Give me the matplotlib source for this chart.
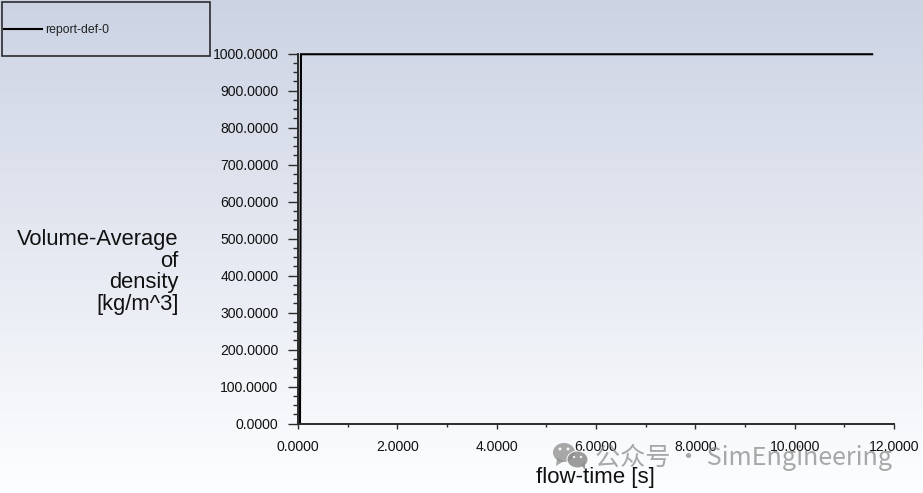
import numpy as np
from matplotlib import pyplot as plt
from matplotlib.patches import Ellipse, Rectangle, Polygon
from matplotlib.ticker import MultipleLocator, FormatStrFormatter

# values
flow_time = [0.0, 0.04, 0.06, 2.0, 6.0, 11.56]
density = [0.0, 0.0, 998.0, 998.0, 998.0, 998.0]
series_label = 'report-def-0'
x_label = 'flow-time [s]'
y_label = 'Volume-Average\nof\ndensity\n[kg/m^3]'
watermark = '公众号 · SimEngineering'

W, H = 923, 493
plt.rcParams['font.family'] = ['Liberation Sans', 'DejaVu Sans']

fig = plt.figure(figsize=(W / 100, H / 100), dpi=100)

# full figure axes in pixel coordinates, for backdrop and furniture
bg = fig.add_axes([0, 0, 1, 1], zorder=0)
bg.set_xlim(0, W)
bg.set_ylim(H, 0)
bg.axis('off')
top_col = np.array([204, 211, 227]) / 255
bot_col = np.array([253, 254, 255]) / 255
grad = np.linspace(0, 1, 256)[:, None, None] * (bot_col - top_col) + top_col
bg.imshow(grad, extent=[0, W, H, 0], aspect='auto', zorder=0)

bg.add_patch(Rectangle((1.5, 1.5), 208, 54, fill=False, ec='#2b2b2b', lw=1.2, zorder=2))
bg.text(178.5, 272, y_label, ha='right', va='center', multialignment='right',
        fontsize=15.8, color='#111111', linespacing=1.03)
bg.text(595, 478, x_label, ha='center', va='center', fontsize=16, color='#111111')

# main plot
left, right, top, bottom = 298, 894, 53.5, 423.5
ax = fig.add_axes([left / W, 1 - bottom / H, (right - left) / W, (bottom - top) / H], zorder=1)
ax.patch.set_alpha(0)
ax.plot(flow_time, density, color='black', lw=1.5, clip_on=False, label=series_label,
        solid_joinstyle='miter')
ax.set_xlim(0, 12)
ax.set_ylim(0, 1000)

for side in ['top', 'right']:
    ax.spines[side].set_visible(False)
for side in ['left', 'bottom']:
    ax.spines[side].set_linewidth(1.4)
    ax.spines[side].set_color('#2b2b2b')

ax.xaxis.set_major_locator(MultipleLocator(2))
ax.xaxis.set_minor_locator(MultipleLocator(1))
ax.yaxis.set_major_locator(MultipleLocator(100))
ax.yaxis.set_minor_locator(MultipleLocator(25))
ax.xaxis.set_major_formatter(FormatStrFormatter('%.4f'))
ax.yaxis.set_major_formatter(FormatStrFormatter('%.4f'))
ax.tick_params(axis='y', which='major', length=7.2, width=1.0, pad=7, labelsize=10.1,
               color='#2b2b2b', labelcolor='#111111')
ax.tick_params(axis='y', which='minor', length=3.6, width=1.0, color='#2b2b2b')
ax.tick_params(axis='x', which='major', length=3.6, width=1.0, pad=8, labelsize=10.1,
               color='#2b2b2b', labelcolor='#111111')
ax.tick_params(axis='x', which='minor', length=2.2, width=1.0, color='#2b2b2b')

ax.legend(loc='center left', bbox_to_anchor=(4, 30), bbox_transform=bg.transData,
          frameon=False, fontsize=8.8, handlelength=3.1, handletextpad=0.3,
          borderpad=0, borderaxespad=0, labelcolor='#222222')

# watermark on top of everything
wm = fig.add_axes([0, 0, 1, 1], zorder=2)
wm.set_xlim(0, W)
wm.set_ylim(H, 0)
wm.axis('off')
wm_col = '#8c8c8c'
wm.add_patch(Ellipse((564, 452.5), 22, 19, fc=wm_col, ec='none', alpha=0.75))
wm.add_patch(Polygon([[557, 458], [556, 466], [564, 461]], fc=wm_col, ec='none', alpha=0.75))
wm.add_patch(Ellipse((577.5, 459.5), 21, 17, fc=wm_col, ec='white', lw=0.8, alpha=0.85))
wm.add_patch(Polygon([[581, 465], [585, 470], [585, 462]], fc=wm_col, ec='none', alpha=0.85))
for ex, ey, er in [(560, 449, 3), (568, 449, 3), (574, 457, 2.4), (581, 457, 2.4)]:
    wm.add_patch(Ellipse((ex, ey), er, er, fc='white', ec='none', alpha=0.9))
wm.text(595, 457, watermark, ha='left', va='center', fontsize=18.1, color='#8c8c8c', alpha=0.75,
        family=['Noto Sans CJK SC', 'DejaVu Sans'])

fig.savefig('out.png', dpi=100)
